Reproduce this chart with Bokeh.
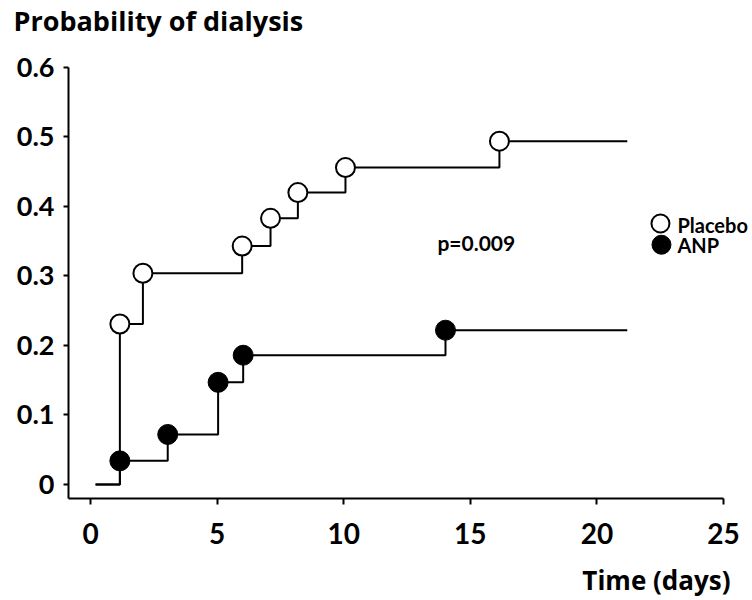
from bokeh.plotting import figure
from bokeh.models import Range1d, FixedTicker, Label
from bokeh.embed import file_html
from bokeh.resources import INLINE

# ---- data ----
placebo_days = [0.2, 1.16, 2.07, 5.99, 7.11, 8.19, 10.07, 16.15, 21.2]
placebo_prob = [0.0, 0.231, 0.304, 0.343, 0.383, 0.420, 0.456, 0.494, 0.494]
anp_days = [0.2, 1.16, 3.05, 5.04, 6.03, 14.02, 21.2]
anp_prob = [0.0, 0.034, 0.072, 0.147, 0.186, 0.222, 0.222]
x_ticks = [0, 5, 10, 15, 20, 25]
y_ticks = [0, 0.1, 0.2, 0.3, 0.4, 0.5, 0.6]
y_tick_labels = ["0", "0.1", "0.2", "0.3", "0.4", "0.5", "0.6"]
series_names = ["Placebo", "ANP"]
p_value_text = "p=0.009"
y_title = "Probability of dialysis"
x_title = "Time (days)"

FONT = "Lato"
TITLE_FONT = "Open Sans"
X_AXIS_MIN, X_AXIS_MAX = -0.87, 25
Y_AXIS_MIN, Y_AXIS_MAX = -0.02, 0.6

p = figure(width=752, height=600, title=None,
           x_range=Range1d(-3.5545, 26.145), y_range=Range1d(-0.16691, 0.6964),
           output_backend="svg", toolbar_location=None,
           min_border=0, min_border_left=0, min_border_right=0,
           min_border_top=0, min_border_bottom=0)
p.grid.visible = False
p.outline_line_color = None
p.background_fill_color = "white"
p.border_fill_color = "white"

# axes (placed at fixed data positions inside the drawing area)
p.xaxis.ticker = FixedTicker(ticks=x_ticks)
p.yaxis.ticker = FixedTicker(ticks=y_ticks)
p.xaxis.fixed_location = Y_AXIS_MIN
p.yaxis.fixed_location = X_AXIS_MIN
p.xaxis.bounds = (X_AXIS_MIN, X_AXIS_MAX)
p.yaxis.bounds = (Y_AXIS_MIN, Y_AXIS_MAX)
p.yaxis.major_label_overrides = {t: l for t, l in zip(y_ticks, y_tick_labels)}
for ax in (p.xaxis[0], p.yaxis[0]):
    ax.axis_line_width = 2
    ax.axis_line_color = "black"
    ax.major_tick_line_width = 2
    ax.major_tick_line_color = "black"
    ax.major_tick_in = 0
    ax.minor_tick_out = 0
    ax.minor_tick_in = 0
    ax.major_label_text_font = FONT
    ax.major_label_text_font_style = "bold"
    ax.major_label_text_color = "black"
p.xaxis.major_tick_out = 6
p.yaxis.major_tick_out = 5
p.xaxis.major_label_text_font_size = "28px"
p.yaxis.major_label_text_font_size = "27px"
p.xaxis.major_label_standoff = 19
p.yaxis.major_label_standoff = 9

# step curves
p.step(placebo_days, placebo_prob, mode="after", line_width=2, line_color="black")
p.step(anp_days, anp_prob, mode="after", line_width=2, line_color="black")

# event markers
p.scatter(placebo_days[1:-1], placebo_prob[1:-1], marker="circle", size=19,
          fill_color="white", line_color="black", line_width=2)
p.scatter(anp_days[1:-1], anp_prob[1:-1], marker="circle", size=20,
          fill_color="black", line_color="black", line_width=1)

# legend (manual)
p.scatter([22.51], [0.3755], marker="circle", size=18,
          fill_color="white", line_color="black", line_width=2)
p.scatter([22.55], [0.345], marker="circle", size=19,
          fill_color="black", line_color="black", line_width=1)

def lab(x, y, text, size, align="left", font=FONT):
    p.add_layout(Label(x=x, y=y, text=text, text_font=font, text_font_style="bold",
                       text_font_size=size, text_color="black", text_align=align,
                       text_baseline="middle"))

lab(23.18, 0.3727, series_names[0], "20px")
lab(23.18, 0.3446, series_names[1], "20px")
lab(13.7, 0.3475, p_value_text, "21px")
lab(-3.041, 0.667, y_title, "27px", font=TITLE_FONT)
lab(25.276, -0.1367, x_title, "26px", align="right", font=TITLE_FONT)

open("out.html", "w").write(file_html(p, INLINE))
